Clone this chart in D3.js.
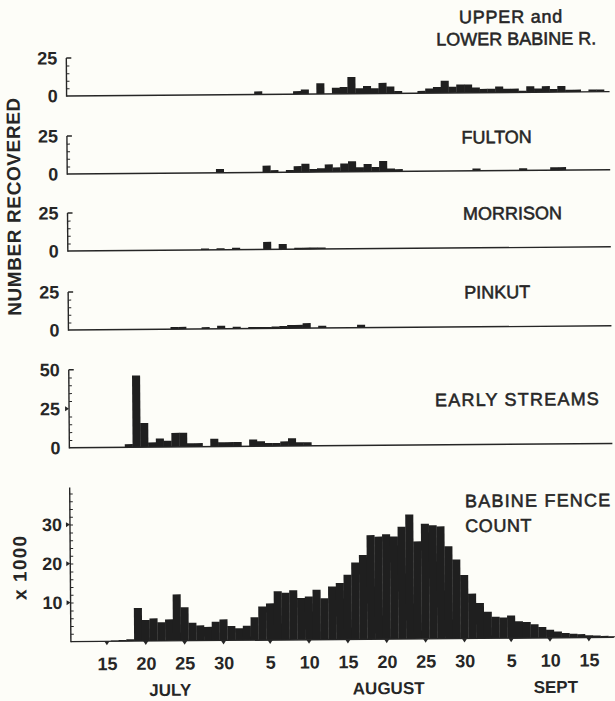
<!DOCTYPE html>
<html>
<head>
<meta charset="utf-8">
<script src="https://cdn.jsdelivr.net/npm/d3@7"></script>
<style>
html, body { margin: 0; padding: 0; background: #fdfdf8; }
svg { display: block; }
text { font-family: "Liberation Sans", Arial, sans-serif; fill: #262626; }
</style>
</head>
<body>
<svg id="chart" width="615" height="701"></svg>
<script>
// days are counted from July 1 = 1 (Aug 1 = 32, Sept 1 = 63)

// number recovered, one value per day from the start day
var upperLowerStart = 35;
var upperLowerCounts = [2,0,0,0,0,2,3,0,7,0,4,4.5,11,3.5,5,3.5,7,4.5,1.5,0,0,1.5,3,4,8,4,5.5,5.5,3.5,2.5,2.5,4,2.5,2.5,1,4,2.5,4,2,4,1.5,1.5,0,1.5,1.5];

var fultonStart = 30;
var fultonCounts = [2.5,0,0,0,0,0,4.5,1.5,0,1.5,4,5.5,2,2.5,5,3,5.5,7,3,5,3,7,2,1.5,0,0,0,0,0,0,0,0,0,1.5,0,0,0,0,0,1.5,0,0,0,2,2];

var morrisonStart = 28;
var morrisonCounts = [1,0,1,0,1.3,0,0,0,5,0,3.5,0,1,1,1,1];

var pinkutStart = 24;
var pinkutCounts = [1.5,1.5,0,0,1.2,0,2,0,1.3,0,1,1,1,1.2,1.5,2.2,2.2,3.3,0,1.5,0,0,0,0,2];

var earlyStart = 18;
var earlyCounts = [2,46,15.5,3,5.5,4,9,9,2.3,2.3,0,5,2.8,2.8,2.8,0,4.3,3.2,2,2,3,5,2.3,2.3];

// Babine fence count, thousands of fish per day
var fenceStart = 16;
var fenceCounts = [0.2,0.3,0.5,8.5,5.4,5.8,4.8,5.5,11.9,8.6,4.6,3.9,3.5,4.8,5.4,3.7,3.1,3.7,5.9,8.6,9.4,12.5,12.1,12.7,10.7,11.1,12.8,10.6,13.6,14.5,16.6,19.7,21.6,26.7,26.3,26.9,26.3,28.8,31.9,25,29.5,29.1,28.8,23.7,20.3,16.3,11.5,9.1,6.8,5.5,5.3,5.8,4.3,4.1,3.5,2.8,2.1,1.6,1.2,1.0,0.9,0.6,0.5,0.4,0.3];

// date axis
var tickDays = [15,20,25,30,36,41,46,51,56,61,67,72,77];
var tickLabels = ["15","20","25","30","5","10","15","20","25","30","5","10","15"];
var monthNames = ["JULY","AUGUST","SEPT"];
var monthDays = [23.1,51.2,72.7];

var ink = "#262626", barInk = "#1f1f1f";
var axisX = 69, rightX = 612;

var svg = d3.select("#chart");
svg.append("rect").attr("width", 615).attr("height", 701).attr("fill", "#fdfdf8");
// the scanned figure sits slightly askew
var root = svg.append("g").attr("transform", "rotate(-0.45,340,400)");

var x = d3.scaleLinear().domain([15, 77]).range([105, 587]);

var panels = [
	{start: upperLowerStart, values: upperLowerCounts, base: 93.8, top: 55.9, max: 25, minor: [5,10,15,20], labels: [0,25]},
	{start: fultonStart, values: fultonCounts, base: 171.9, top: 133.9, max: 25, minor: [5,10,15,20], labels: [0,25]},
	{start: morrisonStart, values: morrisonCounts, base: 248.9, top: 210.9, max: 25, minor: [5,10,15,20], labels: [0,25]},
	{start: pinkutStart, values: pinkutCounts, base: 327.9, top: 289.9, max: 25, minor: [5,10,15,20], labels: [0,25]},
	{start: earlyStart, values: earlyCounts, base: 445.6, top: 367.6, max: 50, minor: [5,10,15,20,30,35,40,45], labels: [0,25,50], marks: [25]},
	{start: fenceStart, values: fenceCounts, base: 639.5, top: 483.5, max: 40, axisTop: 39.5, minor: d3.range(2, 39, 2), labels: [10,20,30], marks: [10,20,30], bottom: true}
];

panels.forEach(function(p){
	var y = d3.scaleLinear().domain([0, p.max]).range([p.base, p.top]);
	var g = root.append("g");
	var topVal = p.axisTop || p.max;

	var data = p.values.map(function(v, i){ return {day: p.start + i, v: v}; })
		.filter(function(d){ return d.v > 0; });

	g.selectAll("rect.bar")
		.data(data)
		.enter().append("rect")
		.attr("class", "bar")
		.attr("x", function(d){ return x(d.day - 0.5); })
		.attr("width", function(d){ return x(d.day + 0.5) - x(d.day - 0.5) + 0.3; })
		.attr("y", function(d){ return y(d.v); })
		.attr("height", function(d){ return y(0) - y(d.v); })
		.attr("fill", barInk);

	// baseline and vertical axis
	g.append("line").attr("x1", axisX).attr("x2", rightX).attr("y1", y(0)).attr("y2", y(0))
		.attr("stroke", ink).attr("stroke-width", 1.4);
	g.append("line").attr("x1", axisX).attr("x2", axisX).attr("y1", y(0) + 0.7).attr("y2", y(topVal))
		.attr("stroke", ink).attr("stroke-width", 1.4);

	// small ticks to the inside
	var minorAxis = g.append("g").attr("transform", "translate(" + axisX + ",0)")
		.call(d3.axisRight(y).tickValues(p.minor).tickSize(3).tickFormat(""));
	minorAxis.select(".domain").remove();
	minorAxis.selectAll("line").attr("stroke", ink).attr("stroke-width", 1);
	if (!p.bottom) {
		g.append("line").attr("x1", axisX).attr("x2", axisX + 5).attr("y1", y(p.max)).attr("y2", y(p.max))
			.attr("stroke", ink).attr("stroke-width", 1.4);
	}

	(p.marks || []).forEach(function(m){
		g.append("path")
			.attr("d", "M" + (axisX - 4) + "," + (y(m) - 2.5) + "L" + axisX + "," + y(m) + "L" + (axisX - 4) + "," + (y(m) + 2.5) + "Z")
			.attr("fill", ink);
	});

	var lab = g.append("g").attr("transform", "translate(" + axisX + ",0)")
		.call(d3.axisLeft(y).tickValues(p.labels).tickSize(0).tickPadding(p.bottom ? 8 : 9).tickFormat(d3.format("d")));
	lab.select(".domain").remove();
	lab.selectAll("text").attr("font-family", "Liberation Sans, Arial, sans-serif")
		.attr("font-size", 18).attr("font-weight", "bold").attr("fill", ink);

	if (p.bottom) {
		var xa = g.append("g").attr("transform", "translate(0," + y(0) + ")")
			.call(d3.axisBottom(x).tickValues(tickDays).tickSize(0).tickPadding(16)
				.tickFormat(function(d, i){ return tickLabels[i]; }));
		xa.select(".domain").remove();
		xa.selectAll("text").attr("font-family", "Liberation Sans, Arial, sans-serif")
			.attr("font-size", 18).attr("font-weight", "bold").attr("fill", ink);
		g.selectAll("path.tri")
			.data(tickDays)
			.enter().append("path")
			.attr("class", "tri")
			.attr("d", function(d){ var cx = x(d), cy = y(0); return "M" + (cx - 2.6) + "," + cy + "L" + (cx + 2.6) + "," + cy + "L" + cx + "," + (cy + 4) + "Z"; })
			.attr("fill", ink);
		g.selectAll("text.month")
			.data(monthNames)
			.enter().append("text")
			.attr("class", "month")
			.attr("x", function(d, i){ return x(monthDays[i]); })
			.attr("y", 694.5)
			.attr("text-anchor", "middle")
			.attr("font-size", 17)
			.attr("font-weight", "bold")
			.text(function(d){ return d; });
	}
});

// panel titles
var titles = [
	{t: "UPPER and", x: 514, y: 24.3, anchor: "middle", ls: 0.8},
	{t: "LOWER BABINE R.", x: 519, y: 46.4, anchor: "middle", ls: 0},
	{t: "FULTON", x: 463.5, y: 144.5, anchor: "start", ls: 0},
	{t: "MORRISON", x: 464.5, y: 220.8, anchor: "start", ls: 0},
	{t: "PINKUT", x: 465, y: 299.5, anchor: "start", ls: 0},
	{t: "EARLY STREAMS", x: 435, y: 407, anchor: "start", ls: 1.2},
	{t: "BABINE FENCE", x: 464.2, y: 508.3, anchor: "start", ls: 1.2},
	{t: "COUNT", x: 464.2, y: 533, anchor: "start", ls: 0.6}
];
root.selectAll("text.title")
	.data(titles)
	.enter().append("text")
	.attr("class", "title")
	.attr("x", function(d){ return d.x; })
	.attr("y", function(d){ return d.y; })
	.attr("text-anchor", function(d){ return d.anchor; })
	.attr("font-size", 18)
	.attr("stroke", ink)
	.attr("stroke-width", 0.55)
	.attr("letter-spacing", function(d){ return d.ls; })
	.text(function(d){ return d.t; });

// rotated axis titles
root.append("text")
	.attr("transform", "translate(22,204) rotate(-90)")
	.attr("text-anchor", "middle")
	.attr("font-size", 19)
	.attr("font-weight", "bold")
	.attr("letter-spacing", 0.6)
	.text("NUMBER RECOVERED");

root.append("text")
	.attr("transform", "translate(25,565) rotate(-90)")
	.attr("text-anchor", "middle")
	.attr("font-size", 19)
	.attr("font-weight", "bold")
	.attr("letter-spacing", 1.2)
	.text("x 1000");
</script>
</body>
</html>
